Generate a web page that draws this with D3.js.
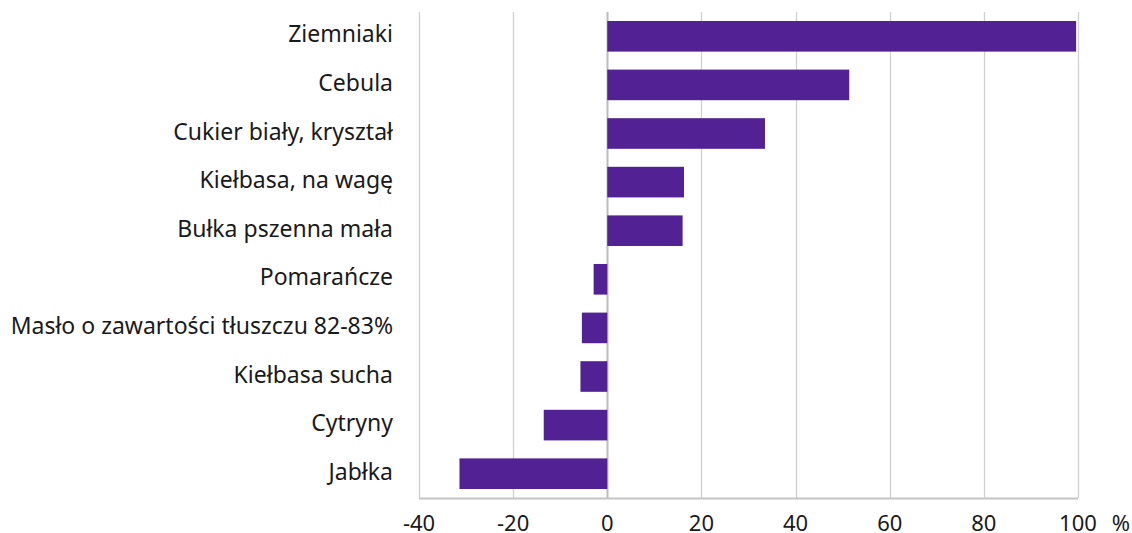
<!DOCTYPE html>
<html>
<head>
<meta charset="utf-8">
<script src="https://cdn.jsdelivr.net/npm/d3@7"></script>
<style>
  body { margin: 0; background: #fff; }
  text { font-family: "Noto Sans", "Open Sans", sans-serif; fill: #1a1a1a; }
</style>
</head>
<body>
<svg id="chart" width="1132" height="533"></svg>
<script>
const categories = [
  "Ziemniaki", "Cebula", "Cukier biały, kryształ", "Kiełbasa, na wagę",
  "Bułka pszenna mała", "Pomarańcze", "Masło o zawartości tłuszczu 82-83%",
  "Kiełbasa sucha", "Cytryny", "Jabłka"
];
const values = [99.6, 51.4, 33.5, 16.3, 16.0, -2.9, -5.4, -5.7, -13.5, -31.4];
const ticks = [-40, -20, 0, 20, 40, 60, 80, 100];

const svg = d3.select("#chart");
const margin = { top: 12, right: 54, bottom: 35, left: 419 };
const width = 1132 - margin.left - margin.right;
const height = 533 - margin.top - margin.bottom;

const g = svg.append("g")
  .attr("transform", `translate(${margin.left},${margin.top})`);

const x = d3.scaleLinear().domain([-40, 100]).range([0, width]);
const y = d3.scaleBand().domain(categories).range([0, height]).paddingInner(0.37).paddingOuter(0.185);

// gridlines
g.selectAll(".grid")
  .data(ticks)
  .join("line")
  .attr("x1", d => Math.round(x(d)) + 0.5)
  .attr("x2", d => Math.round(x(d)) + 0.5)
  .attr("y1", 0)
  .attr("y2", height)
  .attr("stroke", d => d === 0 ? "#bcbcbc" : "#d0d0d0")
  .attr("stroke-width", d => d === 0 ? 2 : 1.3);

// bars
g.selectAll(".bar")
  .data(values)
  .join("rect")
  .attr("x", d => x(Math.min(0, d)))
  .attr("width", d => Math.abs(x(d) - x(0)))
  .attr("y", (d, i) => y(categories[i]))
  .attr("height", y.bandwidth())
  .attr("fill", "#522294");

// bottom axis line
g.append("line")
  .attr("x1", x(-40)).attr("x2", x(100))
  .attr("y1", height + 0.5).attr("y2", height + 0.5)
  .attr("stroke", "#c4c4c4").attr("stroke-width", 2);

// tick labels
g.selectAll(".tick-label")
  .data(ticks)
  .join("text")
  .attr("x", d => x(d))
  .attr("y", height + 33)
  .attr("text-anchor", "middle")
  .style("font-size", "22px")
  .text(d => d);

g.append("text")
  .attr("x", x(100) + 43)
  .attr("y", height + 33)
  .attr("text-anchor", "middle")
  .style("font-size", "22px")
  .text("%");

// category labels
g.selectAll(".cat")
  .data(categories)
  .join("text")
  .attr("x", -26)
  .attr("y", d => y(d) + y.bandwidth() / 2 + 6)
  .attr("text-anchor", "end")
  .style("font-size", "23px")
  .text(d => d);
</script>
</body>
</html>
